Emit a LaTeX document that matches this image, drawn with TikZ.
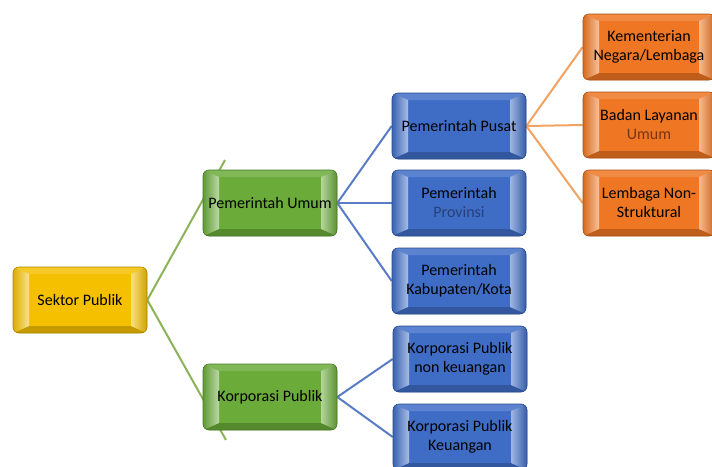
\documentclass[tikz,border=0pt]{standalone}
\usepackage{fontspec}
\setmainfont{Carlito}
\usetikzlibrary{backgrounds}
\definecolor{cYel}{HTML}{F5C000}
\definecolor{cGrn}{HTML}{6AAB3A}
\definecolor{cBlu}{HTML}{3F6DC6}
\definecolor{cOrg}{HTML}{EF7622}
\definecolor{lGrn}{HTML}{8DB35A}
\definecolor{lBlu}{HTML}{5A7CC6}
\definecolor{lOrg}{HTML}{F2A261}
\definecolor{provC}{HTML}{26407A}
\definecolor{umC}{HTML}{7A3414}
\tikzset{
  box/.style={rectangle, rounded corners=6pt, minimum width=134pt, minimum height=66pt,
    inner sep=0pt, align=center, font=\fontsize{16}{19}\selectfont, text=black,
    fill=#1, draw=#1!70!black, line width=0.6pt,
    path picture={
      \def\bb{path picture bounding box}
      \fill[sharp corners, #1!85!white] (\bb.north west) -- (\bb.north east)
        -- ([xshift=-16pt,yshift=-7pt]\bb.north east) -- ([xshift=16pt,yshift=-7pt]\bb.north west) -- cycle;
      \fill[sharp corners, #1!80!black] (\bb.south west) -- (\bb.south east)
        -- ([xshift=-16pt,yshift=7pt]\bb.south east) -- ([xshift=16pt,yshift=7pt]\bb.south west) -- cycle;
      \shade[sharp corners, left color=#1!90!black, right color=#1!45!white] (\bb.north west)
        -- ([xshift=16pt,yshift=-7pt]\bb.north west) -- ([xshift=16pt,yshift=7pt]\bb.south west)
        -- (\bb.south west) -- cycle;
      \shade[sharp corners, left color=#1!50!white, right color=#1!85!black] (\bb.north east)
        -- ([xshift=-16pt,yshift=-7pt]\bb.north east) -- ([xshift=-16pt,yshift=7pt]\bb.south east)
        -- (\bb.south east) -- cycle;
    }},
  gline/.style={draw=lGrn, line width=2pt},
  bline/.style={draw=lBlu, line width=2pt},
  oline/.style={draw=lOrg, line width=2pt},
}
\begin{document}
\begin{tikzpicture}[x=1pt,y=-1pt]
\useasboundingbox (0,0) rectangle (712,466);
\clip (0,0) rectangle (712,466);
\node[box=cYel] (sp) at (80,300) {Sektor Publik};
\node[box=cGrn] (pu) at (270,203) {Pemerintah Umum};
\node[box=cGrn] (kp) at (270,397) {Korporasi Publik};
\node[box=cBlu] (pp) at (459,126) {Pemerintah Pusat};
\node[box=cBlu] (prov) at (459,203) {Pemerintah\\\textcolor{provC}{Provinsi}};
\node[box=cBlu] (kab) at (459,281) {Pemerintah\\Kabupaten/Kota};
\node[box=cBlu] (knk) at (460,359) {Korporasi Publik\\non keuangan};
\node[box=cBlu] (kk) at (460,437) {Korporasi Publik\\Keuangan};
\node[box=cOrg, minimum width=132pt] (kn) at (649,47) {Kementerian\\Negara/Lembaga};
\node[box=cOrg, minimum width=132pt] (bl) at (649,125) {Badan Layanan\\\textcolor{umC}{Umum}};
\node[box=cOrg, minimum width=132pt] (ln) at (649,203) {Lembaga Non-\\Struktural};
\coordinate (g1) at (225,160);
\coordinate (g2) at (226,440);
\begin{scope}[on background layer]
  \fill[white] (0,0) rectangle (712,466);
  \draw[gline] (sp.east) -- (g1);
  \draw[gline] (sp.east) -- (g2);
  \draw[bline] (pu.east) -- (pp.west);
  \draw[bline] (pu.east) -- (prov.west);
  \draw[bline] (pu.east) -- (kab.west);
  \draw[bline] (kp.east) -- (knk.west);
  \draw[bline] (kp.east) -- (kk.west);
  \draw[oline] (pp.east) -- (kn.west);
  \draw[oline] (pp.east) -- (bl.west);
  \draw[oline] (pp.east) -- (ln.west);
\end{scope}
\end{tikzpicture}
\end{document}
